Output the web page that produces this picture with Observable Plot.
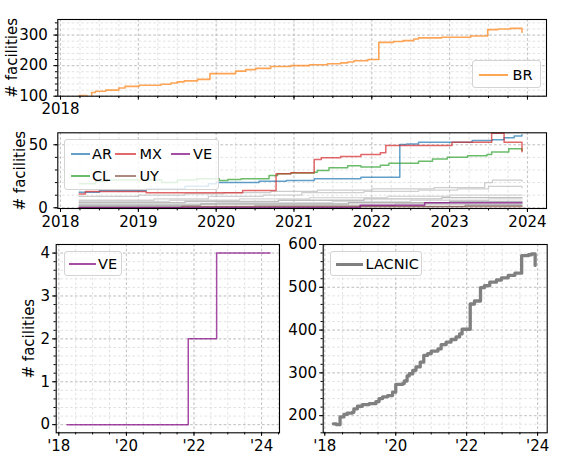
<!DOCTYPE html>
<html><head><meta charset="utf-8">
<script src="https://cdn.jsdelivr.net/npm/d3@7"></script>
<script src="https://cdn.jsdelivr.net/npm/@observablehq/plot@0.6"></script>
<style>
html,body{margin:0;padding:0;background:#fff;}
#fig{position:relative;width:581px;height:460px;font-family:"DejaVu Sans",sans-serif;overflow:hidden;background:#fff;}
#fig > svg{position:absolute;overflow:visible;}
.legend{position:absolute;box-sizing:border-box;background:rgba(255,255,255,0.8);border:1px solid #d4d4d4;border-radius:3px;z-index:5;}
.sw{position:absolute;}
.lt{position:absolute;font-size:14.5px;line-height:1;transform:translateY(-50%);color:#000;white-space:nowrap;}
</style></head>
<body><div id="fig"></div>
<script>
// ---------- data (decimal years, step changes) ----------
const brT = [2018.24,2018.34,2018.40,2018.45,2018.58,2018.75,2018.83,2019.01,2019.29,2019.42,2019.50,2019.59,2019.76,2019.92,2020.25,2020.38,2020.51,2020.70,2020.96,2021.20,2021.43,2021.60,2021.69,2021.77,2021.95,2022.09,2022.28,2022.40,2022.54,2022.60,2022.90,2023.27,2023.49,2023.62,2023.78,2023.93];
const brV = [102,97,112,116,120,127,132,136,139,143,147,150,155,174,182,187,191,197,200,203,206,209,212,216,220,276,279,282,287,291,293,297,318,320,322,309];

const arT = [2018.24,2018.50,2019.10,2019.60,2019.90,2020.00,2020.55,2020.90,2021.26,2021.86,2022.36,2022.45,2022.60,2023.29,2023.55,2023.70,2023.83,2023.93];
const arV = [12.4,13.5,15,17,19,20,21,21.7,23,24.2,50.2,50.7,52,53.4,54,55.5,56.9,58];

const mxT = [2018.24,2018.32,2019.10,2020.34,2020.77,2020.96,2021.26,2021.35,2021.60,2021.86,2022.11,2022.18,2023.03,2023.54,2023.70,2023.93];
const mxV = [11,12.9,12,13.8,27,27.8,38.3,39.7,40.7,42.3,43.6,49.5,52,59.2,52,44.4];

const clT = [2018.24,2018.45,2018.60,2019.30,2019.50,2019.75,2020.04,2020.15,2020.32,2020.68,2020.79,2020.96,2021.26,2021.30,2021.45,2021.69,2021.86,2022.11,2022.22,2022.60,2022.78,2022.97,2023.23,2023.48,2023.54,2023.76,2023.93];
const clV = [19,21,22,20,22,23,21.7,22.5,23,25.6,27,27.6,28.3,29.6,31.7,33.3,32.3,33.8,35.4,37,38.8,40.2,41.2,42.3,44.2,46.8,45.5];

const veT = [2018.24,2021.85,2022.68,2023.93];
const veV = [0,2,4,4];
const uyT = [2018.24,2019.56,2023.93];
const uyV = [0,1,1];

// other LACNIC countries (unlabelled grey lines)
const othersT = [
  [2018.24,2019.00,2019.60,2020.10,2020.70,2021.30,2022.00,2022.80,2023.45,2023.55,2023.93],
  [2018.24,2019.20,2019.90,2020.60,2021.10,2021.90,2022.60,2023.10,2023.50,2023.93],
  [2018.24,2019.40,2020.30,2021.20,2022.20,2023.00,2023.93],
  [2018.24,2019.60,2020.80,2021.90,2022.90,2023.93],
  [2018.24,2020.00,2021.50,2022.50,2023.50,2023.93],
  [2018.24,2019.80,2021.70,2023.00,2023.93],
  [2018.24,2020.50,2022.30,2023.93],
  [2018.24,2021.00,2023.20,2023.93]
];
const othersV = [
  [9,10,11,12,13,14,15,16,20,22,21],
  [6,7,9,10,12,13,14,15,17,16],
  [5,6,7,8,9,10,10],
  [4,5,6,7,8,8],
  [3,4,5,6,7,7],
  [2,3,4,5,5],
  [1,2,3,3],
  [1,1,2,2]
];
const othersColor = ["#c4c4c4","#c8c8c8","#cfcfcf","#b4b4b4","#d2d2d2","#a8a8a8","#bdbdbd","#9a9a9a"];

const veDetailT = [2018.25,2021.83,2022.67,2024.25];
const veDetailV = [0,2,4,4];

const lacnicT = [2018.24,2018.33,2018.43,2018.54,2018.63,2018.78,2018.82,2018.92,2019.06,2019.25,2019.44,2019.53,2019.63,2019.77,2019.91,2020.00,2020.19,2020.24,2020.32,2020.38,2020.48,2020.57,2020.69,2020.79,2020.90,2021.00,2021.19,2021.28,2021.42,2021.56,2021.70,2021.80,2021.87,2022.10,2022.22,2022.39,2022.50,2022.65,2022.84,2022.98,2023.17,2023.36,2023.55,2023.74,2023.83,2023.93];
const lacnicV = [181,179,197,203,206,208,216,222,226,228,233,240,244,247,255,273,275,281,293,298,306,314,325,341,345,351,356,366,372,378,384,391,402,461,468,499,504,512,517,522,528,533,574,576,578,551];

const yearTicks = [2018,2019,2020,2021,2022,2023,2024];
const evenYearTicks = [2018,2020,2022,2024];

// ---------- helpers ----------
const rows = (t, v) => t.map((x, i) => ({x, y: v[i]}));
const range = (a, b, s) => d3.range(Math.round((b - a) / s) + 1).map(i => +(a + i * s).toFixed(4));
const within = (arr, dom) => arr.filter(d => d >= dom[0] && d <= dom[1]);

function panel(o) {
  const gridMinor = {stroke: "#dadada", strokeDasharray: "2.6,2.2", strokeWidth: 0.8};
  const gridMajor = {stroke: "#bdbdbd", strokeDasharray: "2.6,2.2", strokeWidth: 0.8};
  const xMinor = within(o.xMinor, o.xDomain), yMinor = within(o.yMinor, o.yDomain);
  const marks = [
    Plot.ruleX(xMinor, gridMinor),
    Plot.ruleY(yMinor, gridMinor),
    Plot.ruleX(within(o.xMajor, o.xDomain), gridMajor),
    Plot.ruleY(within(o.yMajor, o.yDomain), gridMajor)
  ];
  for (const s of o.series) {
    marks.push(Plot.line(s.data, {x: "x", y: "y", curve: "step-after", stroke: s.color,
      strokeWidth: s.width || 1.5, strokeOpacity: s.opacity == null ? 1 : s.opacity, clip: true}));
  }
  marks.push(Plot.frame({stroke: "#000", strokeWidth: 1.1}));
  marks.push(Plot.axisX({ticks: within(o.xMajor, o.xDomain), tickSize: o.tick, tickPadding: o.xPad, tickFormat: o.xFmt, label: null}));
  marks.push(Plot.axisX({ticks: xMinor, tickSize: o.tick * 0.6, tickFormat: () => "", label: null}));
  marks.push(Plot.axisY({ticks: within(o.yMajor, o.yDomain), tickSize: o.tick, tickPadding: o.yPad, tickFormat: d => String(d), label: null}));
  marks.push(Plot.axisY({ticks: yMinor, tickSize: o.tick * 0.6, tickFormat: () => "", label: null}));
  if (o.yLabel) marks.push(Plot.text([o.yLabel], {frameAnchor: "left", textAnchor: "middle", lineAnchor: "middle",
    rotate: -90, dx: o.labelDx, text: d => d, fontSize: 15, fill: "#000"}));
  const svg = Plot.plot({
    width: o.width, height: o.height,
    marginTop: o.m[0], marginRight: o.m[1], marginBottom: o.m[2], marginLeft: o.m[3],
    x: {type: "linear", domain: o.xDomain, label: null},
    y: {type: "linear", domain: o.yDomain, label: null},
    style: {fontFamily: "DejaVu Sans", fontSize: "15px", color: "#000", background: "none", overflow: "visible"},
    marks
  });
  svg.style.left = o.left + "px";
  svg.style.top = o.top + "px";
  return svg;
}

function legend(fig, box, items) {
  const d = document.createElement("div");
  d.className = "legend";
  Object.assign(d.style, {left: box[0] + "px", top: box[1] + "px", width: box[2] + "px", height: box[3] + "px"});
  for (const it of items) {
    const sw = document.createElement("div");
    sw.className = "sw";
    Object.assign(sw.style, {left: it.lx + "px", top: Math.round(it.y - it.w / 2) + "px", width: it.lw + "px",
      height: it.w + "px", backgroundColor: it.color});
    d.appendChild(sw);
    const t = document.createElement("div");
    t.className = "lt";
    t.textContent = it.text;
    Object.assign(t.style, {left: it.tx + "px", top: it.y + "px"});
    d.appendChild(t);
  }
  fig.appendChild(d);
}

// ---------- colours ----------
const cBR = "#ff7f0e", cAR = "#1f77b4", cMX = "#d62728", cCL = "#2ca02c", cVE = "purple", cUY = "#8c564b", cLAC = "#808080";
// same colours at 70% opacity over white, for the legend swatches
const swBR = "#ffa556", swAR = "#62a0ca", swMX = "#e2686a", swVE = "#a64da6", swCL = "#6bbc6b", swUY = "#ae8981";

const fig = document.getElementById("fig");
const xTop = [2017.965, 2024.245];

// top: BR
fig.appendChild(panel({
  left: 0, top: 0, width: 581, height: 120, m: [19, 35, 24.3, 57.3],
  xDomain: xTop, yDomain: [100, 351],
  xMajor: yearTicks, xMinor: range(2018, 2024.25, 0.25), xFmt: d => d === 2018 ? "2018" : "",
  yMajor: [100, 200, 300], yMinor: range(100, 340, 20),
  tick: 4, xPad: 3.5, yPad: 6,
  yLabel: "# facilities", labelDx: -45.5,
  series: [{data: rows(brT, brV), color: cBR, opacity: 0.7, width: 1.6}]
}));

// middle: countries
const midSeries = othersT.map((t, i) => ({data: rows(t, othersV[i]), color: othersColor[i], opacity: 0.85, width: 1.3}));
midSeries.push(
  {data: rows(arT, arV), color: cAR, opacity: 0.7},
  {data: rows(clT, clV), color: cCL, opacity: 0.7},
  {data: rows(mxT, mxV), color: cMX, opacity: 0.7},
  {data: rows(uyT, uyV), color: cUY, opacity: 0.7},
  {data: rows(veT, veV), color: cVE, opacity: 0.7}
);
fig.appendChild(panel({
  left: 0, top: 120, width: 581, height: 115, m: [12.3, 35, 27, 57.3],
  xDomain: xTop, yDomain: [-0.56, 59.5],
  xMajor: yearTicks, xMinor: range(2018, 2024.25, 0.25), xFmt: d => String(d),
  yMajor: [0, 50], yMinor: range(0, 50, 10),
  tick: 4, xPad: 3.5, yPad: 6,
  yLabel: "# facilities", labelDx: -37.5,
  series: midSeries
}));

// bottom-left: VE
fig.appendChild(panel({
  left: 0, top: 235, width: 290, height: 225, m: [9, 11, 27.7, 55.7],
  xDomain: [2017.923, 2024.53], yDomain: [-0.19, 4.2],
  xMajor: evenYearTicks, xMinor: range(2018, 2024.5, 0.5), xFmt: d => "'" + String(d % 100).padStart(2, "0"),
  yMajor: [0, 1, 2, 3, 4], yMinor: range(0, 4, 0.2),
  tick: 3.6, xPad: 3.5, yPad: 2.6,
  yLabel: "# facilities", labelDx: -26.7,
  series: [{data: rows(veDetailT, veDetailV), color: cVE, opacity: 0.7, width: 1.5}]
}));

// bottom-right: LACNIC
fig.appendChild(panel({
  left: 290, top: 235, width: 291, height: 225, m: [9, 34.3, 27.7, 32.7],
  xDomain: [2017.955, 2024.27], yDomain: [160, 600],
  xMajor: evenYearTicks, xMinor: range(2018, 2024, 0.5), xFmt: d => "'" + String(d % 100).padStart(2, "0"),
  yMajor: [200, 300, 400, 500, 600], yMinor: range(160, 600, 20),
  tick: 3.6, xPad: 3.5, yPad: 2.6,
  yLabel: null,
  series: [{data: rows(lacnicT, lacnicV), color: cLAC, opacity: 1, width: 3.3}]
}));

// legends
legend(fig, [472, 60, 69, 28], [{lx: 6, lw: 29, y: 14, w: 2, color: swBR, tx: 39.5, text: "BR"}]);
legend(fig, [64, 139, 155, 51], [
  {lx: 5.5, lw: 19.5, y: 14, w: 2, color: swAR, tx: 27, text: "AR"},
  {lx: 49.5, lw: 21.5, y: 14, w: 2, color: swMX, tx: 74.5, text: "MX"},
  {lx: 106, lw: 19, y: 14, w: 2, color: swVE, tx: 128, text: "VE"},
  {lx: 5.5, lw: 19.5, y: 36, w: 2, color: swCL, tx: 27, text: "CL"},
  {lx: 49.5, lw: 21.5, y: 36, w: 2, color: swUY, tx: 74.5, text: "UY"}
]);
legend(fig, [64, 250.5, 58, 25], [{lx: 4.3, lw: 27, y: 12, w: 2, color: swVE, tx: 33, text: "VE"}]);
legend(fig, [330, 250.5, 92, 25], [{lx: 5, lw: 27, y: 12, w: 3, color: cLAC, tx: 34.5, text: "LACNIC"}]);
</script></body></html>
